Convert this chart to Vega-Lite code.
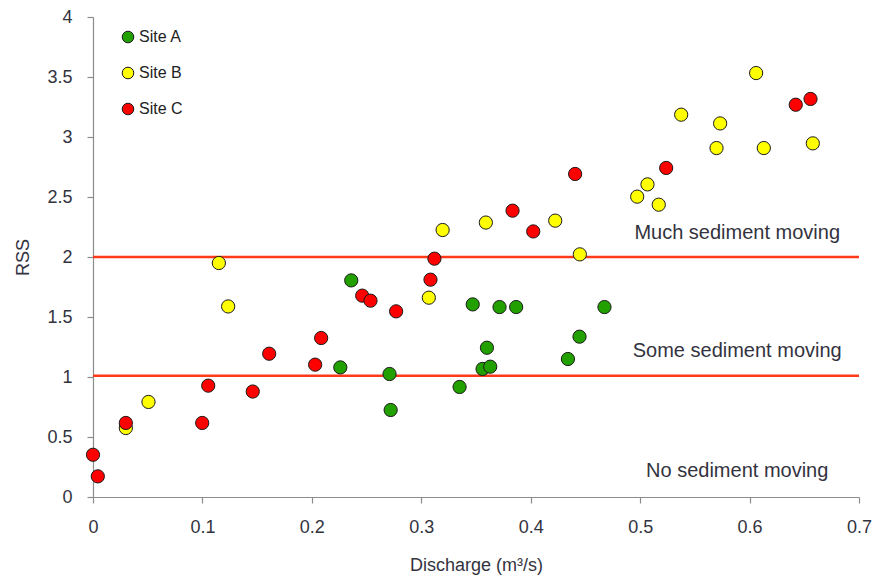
{
  "$schema": "https://vega.github.io/schema/vega-lite/v6.json",
  "width": 766,
  "height": 480,
  "autosize": "none",
  "padding": {"left": 93, "top": 17, "right": 15, "bottom": 79},
  "background": "white",
  "config": {
    "view": {"stroke": null},
    "font": "Liberation Sans",
    "axis": {
      "grid": false,
      "labelFlush": false,
      "labelOverlap": false,
      "domainColor": "#8c8c8c",
      "domainWidth": 1.2,
      "tickColor": "#8c8c8c",
      "tickWidth": 1.2,
      "tickSize": 6,
      "labelFont": "Liberation Sans",
      "labelFontSize": 18,
      "labelColor": "#333340",
      "titleFont": "Liberation Sans",
      "titleFontSize": 18,
      "titleFontWeight": "normal",
      "titleColor": "#333340"
    }
  },
  "datasets": {
    "pts": [
      {"site": "Site A", "q": 0.236, "rss": 1.805},
      {"site": "Site A", "q": 0.226, "rss": 1.08},
      {"site": "Site A", "q": 0.271, "rss": 1.025},
      {"site": "Site A", "q": 0.272, "rss": 0.725},
      {"site": "Site A", "q": 0.335, "rss": 0.917},
      {"site": "Site A", "q": 0.347, "rss": 1.605},
      {"site": "Site A", "q": 0.356, "rss": 1.067},
      {"site": "Site A", "q": 0.36, "rss": 1.244},
      {"site": "Site A", "q": 0.363, "rss": 1.086},
      {"site": "Site A", "q": 0.3715, "rss": 1.583},
      {"site": "Site A", "q": 0.3867, "rss": 1.583},
      {"site": "Site A", "q": 0.434, "rss": 1.15},
      {"site": "Site A", "q": 0.4446, "rss": 1.336},
      {"site": "Site A", "q": 0.4674, "rss": 1.583},
      {"site": "Site B", "q": 0.03, "rss": 0.575},
      {"site": "Site B", "q": 0.0507, "rss": 0.792},
      {"site": "Site B", "q": 0.115, "rss": 1.95},
      {"site": "Site B", "q": 0.1235, "rss": 1.588},
      {"site": "Site B", "q": 0.3069, "rss": 1.661},
      {"site": "Site B", "q": 0.3195, "rss": 2.225},
      {"site": "Site B", "q": 0.359, "rss": 2.287},
      {"site": "Site B", "q": 0.4224, "rss": 2.303},
      {"site": "Site B", "q": 0.4449, "rss": 2.022},
      {"site": "Site B", "q": 0.4973, "rss": 2.503},
      {"site": "Site B", "q": 0.5067, "rss": 2.605},
      {"site": "Site B", "q": 0.517, "rss": 2.436},
      {"site": "Site B", "q": 0.5375, "rss": 3.186},
      {"site": "Site B", "q": 0.5698, "rss": 2.908},
      {"site": "Site B", "q": 0.5731, "rss": 3.113},
      {"site": "Site B", "q": 0.606, "rss": 3.533},
      {"site": "Site B", "q": 0.613, "rss": 2.908},
      {"site": "Site B", "q": 0.6578, "rss": 2.947},
      {"site": "Site C", "q": 0.0, "rss": 0.352},
      {"site": "Site C", "q": 0.0044, "rss": 0.172},
      {"site": "Site C", "q": 0.03, "rss": 0.617},
      {"site": "Site C", "q": 0.0998, "rss": 0.617},
      {"site": "Site C", "q": 0.1053, "rss": 0.928},
      {"site": "Site C", "q": 0.146, "rss": 0.879},
      {"site": "Site C", "q": 0.161, "rss": 1.194},
      {"site": "Site C", "q": 0.203, "rss": 1.103},
      {"site": "Site C", "q": 0.2085, "rss": 1.325},
      {"site": "Site C", "q": 0.246, "rss": 1.678},
      {"site": "Site C", "q": 0.2536, "rss": 1.636},
      {"site": "Site C", "q": 0.277, "rss": 1.547},
      {"site": "Site C", "q": 0.3084, "rss": 1.811},
      {"site": "Site C", "q": 0.312, "rss": 1.986},
      {"site": "Site C", "q": 0.3834, "rss": 2.386},
      {"site": "Site C", "q": 0.4023, "rss": 2.213},
      {"site": "Site C", "q": 0.4406, "rss": 2.692},
      {"site": "Site C", "q": 0.5238, "rss": 2.742},
      {"site": "Site C", "q": 0.6422, "rss": 3.269},
      {"site": "Site C", "q": 0.6557, "rss": 3.317}
    ],
    "thresholds": [{"level": 2.0}, {"level": 1.01}],
    "notes": [
      {"q": 0.5887, "rss": 2.2, "label": "Much sediment moving"},
      {"q": 0.5887, "rss": 1.213, "label": "Some sediment moving"},
      {"q": 0.5887, "rss": 0.213, "label": "No sediment moving"}
    ]
  },
  "layer": [
    {
      "data": {"name": "thresholds"},
      "mark": {"type": "rule", "color": "#ff3a1a", "strokeWidth": 2.6},
      "encoding": {
        "y": {"field": "level", "type": "quantitative", "scale": {"domain": [0, 4], "nice": false}}
      }
    },
    {
      "data": {"name": "notes"},
      "mark": {"type": "text", "font": "Liberation Sans", "fontSize": 20, "color": "#333340", "align": "center", "baseline": "middle"},
      "encoding": {
        "x": {"field": "q", "type": "quantitative"},
        "y": {"field": "rss", "type": "quantitative"},
        "text": {"field": "label"}
      }
    },
    {
      "data": {"name": "pts"},
      "mark": {"type": "point", "shape": "circle", "filled": true, "size": 175, "stroke": "#1a1a1a", "strokeWidth": 1, "opacity": 1},
      "encoding": {
        "x": {
          "field": "q", "type": "quantitative",
          "scale": {"domain": [0, 0.7], "nice": false},
          "axis": {"title": "Discharge (m³/s)", "values": [0, 0.1, 0.2, 0.3, 0.4, 0.5, 0.6, 0.7], "format": ".1~f", "labelPadding": 15, "titlePadding": 20}
        },
        "y": {
          "field": "rss", "type": "quantitative",
          "scale": {"domain": [0, 4], "nice": false},
          "axis": {"title": "RSS", "values": [0, 0.5, 1, 1.5, 2, 2.5, 3, 3.5, 4], "format": ".1~f", "labelPadding": 15, "titlePadding": 14}
        },
        "color": {
          "field": "site", "type": "nominal",
          "scale": {"domain": ["Site A", "Site B", "Site C"], "range": ["#22a000", "#ffff00", "#ff0000"]},
          "legend": {
            "title": null,
            "orient": "none",
            "legendX": 27,
            "legendY": 12,
            "padding": 0,
            "rowPadding": 20,
            "symbolSize": 135,
            "symbolType": "circle",
            "symbolStrokeColor": "#1a1a1a",
            "symbolStrokeWidth": 1,
            "symbolOpacity": 1,
            "labelFont": "Liberation Sans",
            "labelFontSize": 16,
            "labelColor": "#222",
            "labelOffset": 3
          }
        }
      }
    }
  ]
}
